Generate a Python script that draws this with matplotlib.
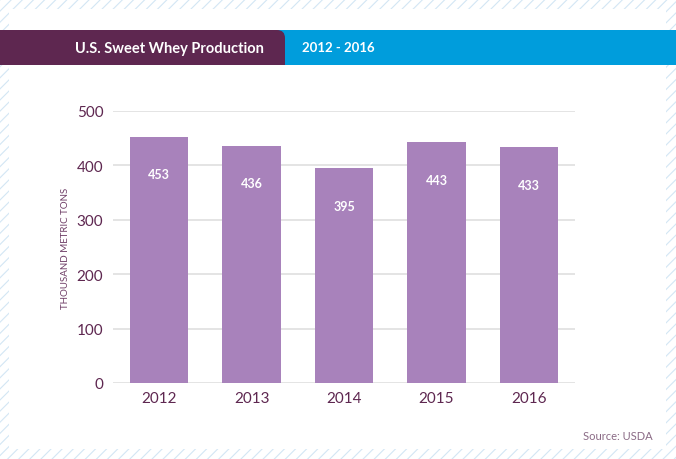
import matplotlib.pyplot as plt
from matplotlib.patches import Rectangle, FancyBboxPatch

# Data
years = ["2012", "2013", "2014", "2015", "2016"]
production = [453, 436, 395, 443, 433]
yticks = [0, 100, 200, 300, 400, 500]

plt.rcParams['font.family'] = ['Lato', 'DejaVu Sans']

purple_dark = '#5e2750'
bar_color = '#a882bb'
blue = '#009ddc'

fig = plt.figure(figsize=(6.76, 4.6), dpi=100)

# hatched background + white card
plt.rcParams['hatch.linewidth'] = 0.8
bg = Rectangle((0, 0), 1, 1, transform=fig.transFigure, facecolor='white',
               edgecolor='#d3e6f4', hatch='///', linewidth=0, zorder=0)
fig.patches.append(bg)
card = Rectangle((9 / 676, 1 - 450 / 460), (666 - 9) / 676, (450 - 10) / 460,
                 transform=fig.transFigure, facecolor='white', edgecolor='none', zorder=1)
fig.patches.append(card)

# header band
y0, y1 = 1 - 66 / 460, 1 - 31 / 460
fig.patches.append(Rectangle((0, y0), 1, y1 - y0, transform=fig.transFigure,
                             facecolor=blue, edgecolor='none', zorder=2))
fig.patches.append(FancyBboxPatch((-0.05, y0), 0.05 + 285 / 676, y1 - y0,
                                  boxstyle='round,pad=0,rounding_size=0.012',
                                  transform=fig.transFigure, facecolor=purple_dark,
                                  edgecolor='none', zorder=3, mutation_aspect=676 / 460))
fig.patches.append(Rectangle((0, y0), 285 / 676, (y1 - y0) / 2, transform=fig.transFigure,
                             facecolor=purple_dark, edgecolor='none', zorder=3))
yc = 1 - 48.5 / 460
fig.text(264 / 676, yc, "U.S. Sweet Whey Production", color='white', fontsize=10.5,
         fontweight='bold', ha='right', va='center', zorder=5)
fig.text(302 / 676, yc, "2012 - 2016", color='white', fontsize=9.5,
         fontweight='bold', ha='left', va='center', zorder=5)

# chart
ax = fig.add_axes([113 / 676, 1 - 384 / 460, (575 - 113) / 676, (384 - 112) / 460], zorder=4)
ax.patch.set_alpha(0)
x = range(len(years))
bars = ax.bar(x, production, width=0.63, color=bar_color, zorder=3)
for xi, v in zip(x, production):
    ax.annotate(str(v), (xi, v), xytext=(0, -27), textcoords='offset points',
                ha='center', va='center', color='white', fontsize=9, fontweight='bold')

ax.set_xlim(-0.5, 4.5)
ax.set_ylim(0, 500)
ax.set_yticks(yticks)
ax.set_xticks(list(x))
ax.set_xticklabels(years)
ax.grid(axis='y', color='#e2e2e2', linewidth=1.3, zorder=0)
ax.tick_params(length=0, labelsize=11, labelcolor=purple_dark)
ax.tick_params(axis='y', pad=7)
ax.tick_params(axis='x', pad=6)
for s in ax.spines.values():
    s.set_visible(False)
ax.set_ylabel("THOUSAND METRIC TONS", fontsize=7, color='#6e3d66', labelpad=5)

fig.text(653 / 676, 1 - 437 / 460, "Source: USDA", color='#8a6a85', fontsize=8,
         ha='right', va='center', zorder=5)

plt.savefig("out.png", dpi=100)
